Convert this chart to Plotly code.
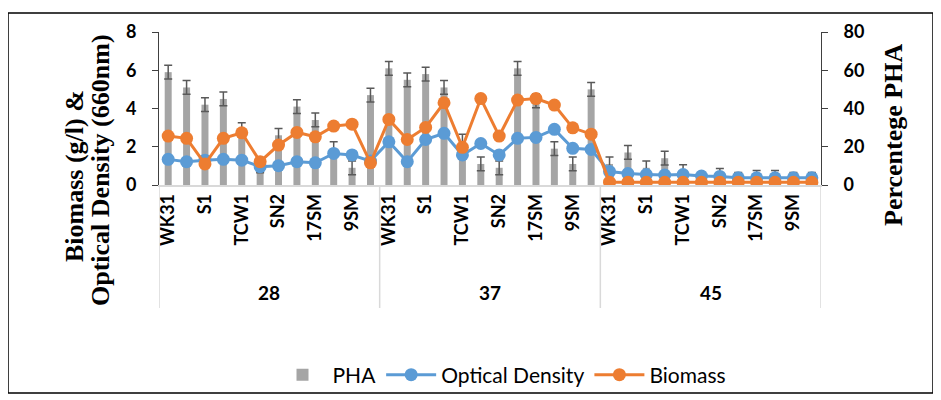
import plotly.graph_objects as go

groups = ["28", "37", "45"]
strains = ["WK31", "WK32", "S1", "S2", "TCW1", "TCW2", "SN2", "SN3", "17SM", "18SM", "9SM", "10SM"]
shown_strains = ["WK31", "S1", "TCW1", "SN2", "17SM", "9SM"]

pha_28 = [59, 51, 42, 45, 29, 10, 26, 41, 34, 19, 9, 47]
pha_37 = [61, 55, 58, 51, 23, 11, 9, 61, 44, 19, 11, 50]
pha_45 = [11, 17, 9, 14, 7, 3, 5, 3, 4, 4, 3, 3]
pha_err = [3.6] * 36

od_28 = [1.34, 1.22, 1.30, 1.34, 1.30, 0.96, 1.01, 1.22, 1.16, 1.65, 1.57, 1.25]
od_37 = [2.26, 1.22, 2.38, 2.70, 1.57, 2.17, 1.57, 2.44, 2.49, 2.91, 1.92, 1.86]
od_45 = [0.70, 0.60, 0.55, 0.52, 0.55, 0.47, 0.45, 0.38, 0.38, 0.38, 0.38, 0.38]

bio_28 = [2.56, 2.44, 1.10, 2.44, 2.73, 1.22, 2.09, 2.75, 2.52, 3.08, 3.18, 1.16]
bio_37 = [3.43, 2.38, 3.01, 4.30, 1.97, 4.52, 2.56, 4.44, 4.52, 4.18, 2.99, 2.66]
bio_45 = [0.15, 0.14, 0.14, 0.14, 0.14, 0.14, 0.14, 0.14, 0.14, 0.14, 0.14, 0.14]

pha = pha_28 + pha_37 + pha_45
od = od_28 + od_37 + od_45
bio = bio_28 + bio_37 + bio_45
n_per = len(strains)
x = list(range(len(groups) * n_per))
labels = [s for g in groups for s in strains]
tickvals = [i for i, s in zip(x, labels) if s in shown_strains]
ticktext = [labels[i] for i in tickvals]

fig = go.Figure()
fig.add_trace(go.Bar(
    x=x, y=pha, name="PHA", marker=dict(color="#A5A5A5", line=dict(width=0)),
    width=0.38, yaxis="y",
    error_y=dict(type="data", array=pha_err, visible=True, color="#595959", thickness=1.5, width=4),
))
fig.add_trace(go.Scatter(
    x=x, y=od, name="Optical Density", mode="lines+markers", yaxis="y2",
    line=dict(color="#5B9BD5", width=3), marker=dict(color="#5B9BD5", size=13),
))
fig.add_trace(go.Scatter(
    x=x, y=bio, name="Biomass", mode="lines+markers", yaxis="y2",
    line=dict(color="#ED7D31", width=3), marker=dict(color="#ED7D31", size=13),
))

tickfont = dict(family="Lato", size=18, color="#000000", weight="bold")

# The page adds an 8px offset; figure is sized so that page coords = fig coords + 8.
OFF = 8
W, HT = 941 - OFF, 400 - OFF
# plot area in page coords: x 159..821, y 32..185
L, T = 159 - OFF, 32 - OFF
R, B = W - (821 - OFF), HT - (185 - OFF)
H = HT - T - B

def py(ypage):
    return (HT - B - (ypage - OFF)) / H

def px(xpage):
    return ((xpage - OFF) - L) / (W - L - R)

shapes = []
for k in range(len(groups) + 1):
    xv = k * n_per - 0.5
    shapes.append(dict(type="line", xref="x", yref="paper", x0=xv, x1=xv, y0=0, y1=py(308),
                       line=dict(color="#D9D9D9", width=1.5)))
shapes.append(dict(type="rect", xref="paper", yref="paper", x0=px(8), x1=px(933), y0=py(393), y1=py(13),
                   line=dict(color="#000000", width=1.5)))

annotations = []
for k, g in enumerate(groups):
    annotations.append(dict(x=k * n_per + (n_per - 1) / 2, y=py(292), xref="x", yref="paper",
                            text="<b>%s</b>" % g, showarrow=False, xanchor="center", yanchor="middle",
                            font=dict(family="Lato", size=19, color="#000")))
title_font = dict(family="Liberation Serif", size=26, color="#000")
annotations.append(dict(x=px(74), y=py(176), xref="paper", yref="paper", textangle=-90, showarrow=False,
                        xanchor="center", yanchor="middle",
                        text="<b>Biomass (g/l) &amp;</b>", font=title_font))
annotations.append(dict(x=px(100), y=py(170), xref="paper", yref="paper", textangle=-90, showarrow=False,
                        xanchor="center", yanchor="middle",
                        text="<b>Optical Density (660nm)</b>", font=title_font))
annotations.append(dict(x=px(893), y=py(135), xref="paper", yref="paper", textangle=-90, showarrow=False,
                        xanchor="center", yanchor="middle",
                        text="<b>Percentege PHA</b>", font=title_font))

fig.update_layout(
    width=W, height=HT, margin=dict(l=L, r=R, t=T, b=B, autoexpand=False),
    paper_bgcolor="white", plot_bgcolor="white",
    showlegend=True,
    legend=dict(orientation="h", x=px(502), xanchor="center", y=py(375), yanchor="middle",
                bgcolor="rgba(0,0,0,0)", itemwidth=50,
                font=dict(family="Lato", size=21, color="#000"), traceorder="normal"),
    xaxis=dict(range=[-0.5, len(x) - 0.5], tickmode="array", tickvals=tickvals, ticktext=ticktext,
               tickangle=-90, tickfont=tickfont, showgrid=False, zeroline=False, automargin=False,
               showline=True, linecolor="#D9D9D9", linewidth=1.5, ticks=""),
    yaxis=dict(range=[0, 80], side="right", tickvals=[0, 20, 40, 60, 80], tickfont=tickfont,
               showgrid=False, zeroline=False, showline=True, linecolor="#404040", linewidth=1,
               automargin=False,
               ticks="outside", ticklen=6, tickcolor="#404040", ticklabelstandoff=12),
    yaxis2=dict(range=[0, 8], side="left", overlaying="y", tickvals=[0, 2, 4, 6, 8], tickfont=tickfont,
                showgrid=False, zeroline=False, showline=True, linecolor="#404040", linewidth=1,
                automargin=False,
                ticks="outside", ticklen=6, tickcolor="#404040", ticklabelstandoff=12),
    shapes=shapes, annotations=annotations,
)

fig.write_html("out.html")
